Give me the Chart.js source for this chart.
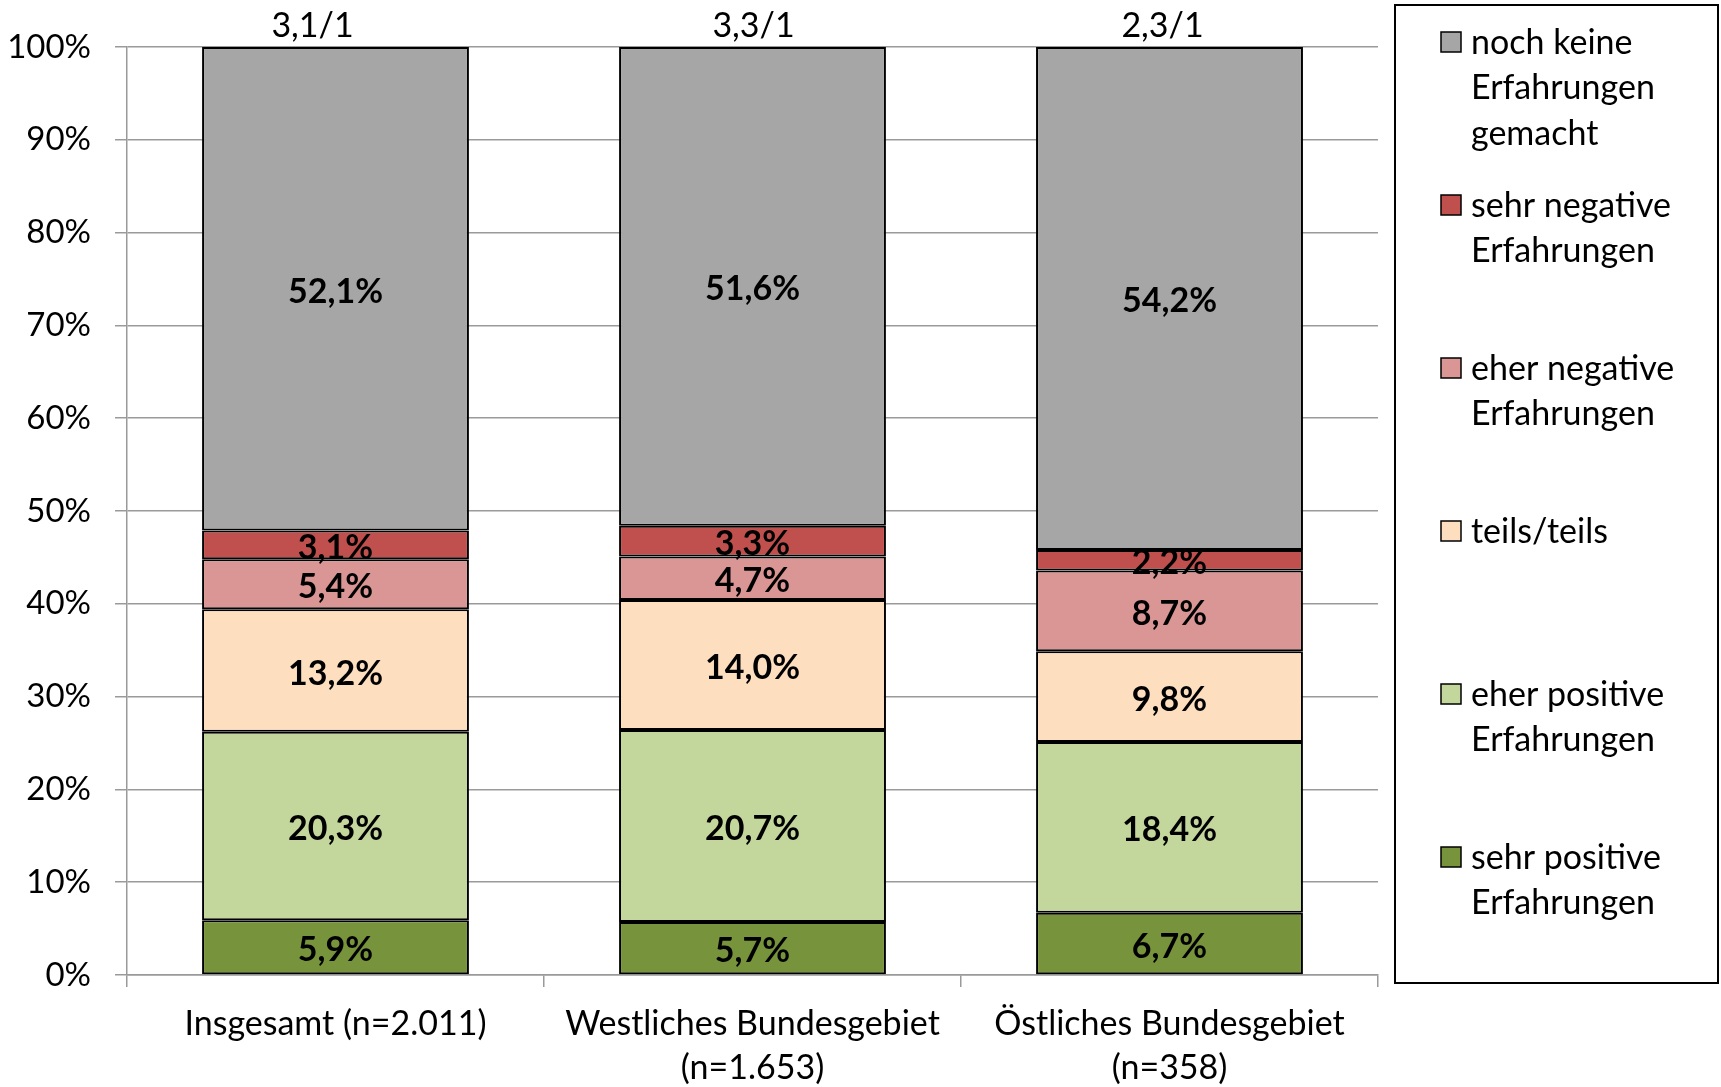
<!DOCTYPE html>
<html>
<head>
<meta charset="utf-8">
<script src="https://cdn.jsdelivr.net/npm/chart.js@4.4.0/dist/chart.umd.min.js"></script>
<style>
  html, body { margin: 0; padding: 0; background: #fff; }
</style>
</head>
<body>
<canvas id="myChart" width="1721" height="1087"></canvas>
<script>
// Regionen (Kategorien)
const regionen = [
  'Insgesamt (n=2.011)',
  ['Westliches Bundesgebiet', '(n=1.653)'],
  ['Östliches Bundesgebiet', '(n=358)']
];
// Verhältnis positiv/negativ über den Balken
const verhaeltnis = ['3,1/1', '3,3/1', '2,3/1'];

// Anteile in Prozent
const sehrPositiv = [5.9, 5.7, 6.7];
const eherPositiv = [20.3, 20.7, 18.4];
const teilsTeils = [13.2, 14.0, 9.8];
const eherNegativ = [5.4, 4.7, 8.7];
const sehrNegativ = [3.1, 3.3, 2.2];
const keineErfahrungen = [52.1, 51.6, 54.2];

const schrift = 'Lato, "Open Sans", sans-serif';

// Werte in die Balken schreiben
const wertePlugin = {
  id: 'werte',
  afterDatasetsDraw(chart) {
    const ctx = chart.ctx;
    ctx.save();
    ctx.font = 'bold 34px ' + schrift;
    ctx.fillStyle = '#000';
    ctx.textAlign = 'center';
    ctx.textBaseline = 'middle';
    chart.data.datasets.forEach((ds, i) => {
      const meta = chart.getDatasetMeta(i);
      meta.data.forEach((bar, j) => {
        const p = bar.getProps(['x', 'y', 'base'], true);
        const txt = ds.data[j].toFixed(1).replace('.', ',') + '%';
        ctx.fillText(txt, p.x, (p.y + p.base) / 2 + 3);
      });
    });
    // Verhältnis oben (Textfelder im Original leicht versetzt)
    const versatz = [-23, 1, -7];
    ctx.font = '34px ' + schrift;
    const meta0 = chart.getDatasetMeta(0);
    meta0.data.forEach((bar, j) => {
      ctx.fillText(verhaeltnis[j], bar.x + versatz[j], chart.chartArea.top - 21);
    });
    ctx.restore();
  }
};

// Legende rechts mit Rahmen, Einträge von oben nach unten verteilt
const legendePlugin = {
  id: 'legende',
  afterDraw(chart) {
    const ctx = chart.ctx;
    const box = { x: 1395, y: 5, w: 323, h: 978 };
    ctx.save();
    ctx.strokeStyle = '#000';
    ctx.lineWidth = 2;
    ctx.strokeRect(box.x, box.y, box.w, box.h);
    ctx.font = '34px ' + schrift;
    ctx.textBaseline = 'middle';
    ctx.textAlign = 'left';
    const items = chart.data.datasets.slice().reverse();
    const slot = box.h / items.length;
    items.forEach((ds, i) => {
      const cy = box.y + 37 + i * slot;
      ctx.fillStyle = ds.backgroundColor;
      ctx.fillRect(1441, cy - 10, 20, 20);
      ctx.lineWidth = 1.5;
      ctx.strokeStyle = '#000';
      ctx.strokeRect(1441, cy - 10, 20, 20);
      // Zeilen umbrechen
      const woerter = ds.label.split(' ');
      const zeilen = [];
      let zeile = '';
      woerter.forEach(w => {
        const test = zeile ? zeile + ' ' + w : w;
        if (zeile && ctx.measureText(test).width > 240) {
          zeilen.push(zeile);
          zeile = w;
        } else {
          zeile = test;
        }
      });
      zeilen.push(zeile);
      ctx.fillStyle = '#000';
      zeilen.forEach((z, k) => ctx.fillText(z, 1471, cy + 1 + k * 45.5));
    });
    ctx.restore();
  }
};

const ds = (label, data, farbe) => ({
  label: label,
  data: data,
  backgroundColor: farbe,
  borderColor: '#000',
  borderWidth: 2,
  borderSkipped: false,
  barPercentage: 0.64,
  categoryPercentage: 1.0
});

new Chart(document.getElementById('myChart'), {
  type: 'bar',
  data: {
    labels: regionen,
    datasets: [
      ds('sehr positive Erfahrungen', sehrPositiv, '#77933C'),
      ds('eher positive Erfahrungen', eherPositiv, '#C3D69B'),
      ds('teils/teils', teilsTeils, '#FDDFC0'),
      ds('eher negative Erfahrungen', eherNegativ, '#D99694'),
      ds('sehr negative Erfahrungen', sehrNegativ, '#C0504D'),
      ds('noch keine Erfahrungen gemacht', keineErfahrungen, '#A6A6A6')
    ]
  },
  options: {
    responsive: false,
    animation: false,
    layout: { padding: { left: 0, right: 343, top: 47, bottom: 0 } },
    plugins: {
      legend: { display: false },
      tooltip: { enabled: false }
    },
    scales: {
      x: {
        stacked: true,
        grid: { offset: true, drawOnChartArea: false, tickLength: 12, color: '#9a9a9a', lineWidth: 1.5 },
        border: { color: '#9a9a9a', width: 1.5 },
        ticks: {
          color: '#000',
          font: { family: schrift, size: 34, lineHeight: 1.3 },
          padding: 15,
          maxRotation: 0,
          autoSkip: false
        },
        afterFit(scale) { scale.height = 112; }
      },
      y: {
        stacked: true,
        min: 0,
        max: 100,
        grid: { color: '#9a9a9a', lineWidth: 1.5, tickLength: 12 },
        border: { color: '#9a9a9a', width: 1.5 },
        ticks: {
          stepSize: 10,
          color: '#000',
          padding: 24,
          font: { family: schrift, size: 33 },
          callback: (v) => v + '%'
        },
        afterFit(scale) { scale.width = 127; }
      }
    }
  },
  plugins: [wertePlugin, legendePlugin]
});
</script>
</body>
</html>
